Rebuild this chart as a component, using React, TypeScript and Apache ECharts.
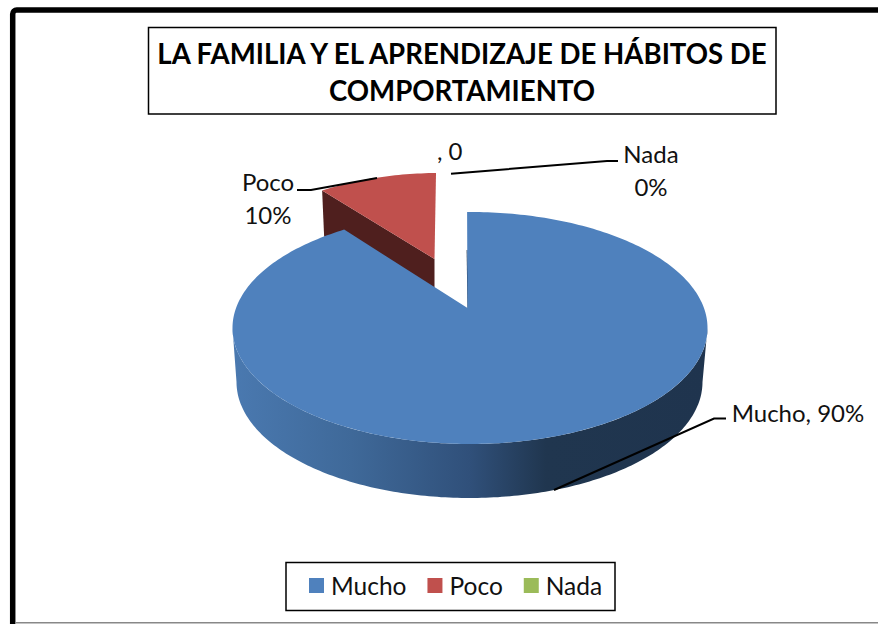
import React, { useEffect, useRef } from "react";
import * as echarts from "echarts";

const titleText = "LA FAMILIA Y EL APRENDIZAJE DE HÁBITOS DE\nCOMPORTAMIENTO";
const categories = ["Mucho", "Poco", "Nada"];
const values = [90, 10, 0];
const colors = ["#4F81BD", "#C0504D", "#9BBB59"];
const strayLabel = ", 0";

const FONT = "Lato, Carlito, sans-serif";
const LABEL_FONT = `24px ${FONT}`;
const total = values.reduce((a, b) => a + b, 0);

const rad = (d: number) => (d * Math.PI) / 180;
// the picture's 3-D view slightly widens the angles near the far-left of the pie
const viewAngle = (a: number) => a - 8 * Math.sin(rad(a)) - 0.7;

type Ell = { cx: number; cy: number; rx: number; ry: number };
const pt = (e: Ell, t: number): number[] => [e.cx + e.rx * Math.sin(rad(t)), e.cy - e.ry * Math.cos(rad(t))];
const arc = (e: Ell, a: number, b: number): number[][] => {
  const out: number[][] = [];
  const n = Math.max(2, Math.ceil(Math.abs(b - a)));
  for (let i = 0; i <= n; i++) out.push(pt(e, a + ((b - a) * i) / n));
  return out;
};

const geometry: any[] = [
  {
    apex: [467.5, 308],
    top: { cx: 470, cy: 328, rx: 237.5, ry: 116 },
    bottom: { cx: 469.5, cy: 382, rx: 233, ry: 116 },
    sliver: [[466.6, 250], [467.5, 250], [468.6, 308], [467.5, 308]],
    sliverFill: "#1F344E",
    label: { x: 798, y: 412, align: "center", oneLine: true },
    leader: [[554, 490], [714, 418.5], [726, 418.5]],
  },
  {
    apex: [434.5, 259],
    top: { cx: 438.7, cy: 289, rx: 220, ry: 116 },
    cut: { depth: 36, leftDrop: 46, fill: "#4F1F1E" },
    label: { x: 268, y: 198, align: "center" },
    leader: [[297, 190], [311, 190], [377, 178]],
  },
  {
    label: { x: 651, y: 170, align: "center" },
    leader: [[451, 173.7], [607, 161], [618, 161]],
  },
];

const wallGradient = () =>
  new echarts.graphic.LinearGradient(0, 0, 1, 0, [
    { offset: 0, color: "#4A79B0" },
    { offset: 0.25, color: "#3F6999" },
    { offset: 0.5, color: "#30507A" },
    { offset: 0.66, color: "#20364F" },
    { offset: 1, color: "#1F344E" },
  ]);

const renderSlice = (i: number) => (_p: any, api: any) => {
  const g = geometry[i];
  const value = api.value(0) as number;
  const before = values.slice(0, i).reduce((a, b) => a + b, 0);
  const start = viewAngle((before / total) * 360);
  const end = viewAngle(((before + value) / total) * 360);
  const children: any[] = [];
  if (value > 0 && g.top) {
    if (g.bottom) {
      children.push({
        type: "polygon",
        shape: { points: [...arc(g.top, 90, 270), ...arc(g.bottom, 270, 90)] },
        style: { fill: wallGradient() },
      });
    }
    if (g.cut) {
      const p = pt(g.top, start);
      children.push({
        type: "polygon",
        shape: {
          points: [p, g.apex, [g.apex[0], g.apex[1] + g.cut.depth], [p[0] + 2, p[1] + g.cut.leftDrop]],
        },
        style: { fill: g.cut.fill },
      });
    }
    if (g.sliver) {
      children.push({ type: "polygon", shape: { points: g.sliver }, style: { fill: g.sliverFill } });
    }
    children.push({
      type: "polygon",
      shape: { points: [g.apex, ...arc(g.top, start, end)] },
      style: { fill: colors[i] },
    });
  }
  children.push({
    type: "polyline",
    shape: { points: g.leader },
    style: { stroke: "#000", lineWidth: 2, fill: "none" },
  });
  const pct = `${Math.round((value / total) * 100)}%`;
  const text = g.label.oneLine ? `${categories[i]}, ${pct}` : `${categories[i]}\n${pct}`;
  children.push({
    type: "text",
    style: {
      text,
      x: g.label.x,
      y: g.label.y,
      textAlign: g.label.align,
      textVerticalAlign: "middle",
      font: LABEL_FONT,
      lineHeight: 33,
      fill: "#111",
    },
  });
  return { type: "group", children };
};

export default function App() {
  const ref = useRef<HTMLDivElement>(null);
  useEffect(() => {
    const chart = echarts.init(ref.current!, null, { renderer: "svg" });
    chart.setOption({
      animation: false,
      backgroundColor: "#fff",
      title: {
        text: titleText,
        left: 462,
        top: 35,
        textAlign: "center",
        padding: 0,
        textStyle: { fontFamily: FONT, fontWeight: "bold", fontSize: 27.6, lineHeight: 37, color: "#000" },
      },
      legend: {
        data: categories,
        left: 309,
        top: 573,
        padding: 0,
        itemWidth: 15,
        itemHeight: 15,
        itemGap: 21,
        icon: "rect",
        selectedMode: false,
        textStyle: { fontFamily: FONT, fontSize: 24.5, color: "#111", padding: [2, 0, 0, 2] },
      },
      graphic: [
        {
          type: "rect",
          shape: { x: 12.7, y: 10, width: 900, height: 700, r: 4 },
          style: { fill: "none", stroke: "#000", lineWidth: 5.5 },
        },
        { type: "line", shape: { x1: 15, y1: 622.7, x2: 878, y2: 622.7 }, style: { stroke: "#888", lineWidth: 1.5 } },
        {
          type: "rect",
          shape: { x: 148.5, y: 27.5, width: 627.5, height: 86.5 },
          style: { fill: "none", stroke: "#000", lineWidth: 1.5 },
        },
        {
          type: "rect",
          shape: { x: 286, y: 562.5, width: 329, height: 48 },
          style: { fill: "none", stroke: "#000", lineWidth: 1.5 },
        },
        {
          type: "text",
          style: { text: strayLabel, x: 437, y: 150, textVerticalAlign: "middle", font: LABEL_FONT, fill: "#111" },
        },
      ],
      series: categories.map((name, i) => ({
        type: "custom",
        name,
        coordinateSystem: "none",
        silent: true,
        z: i === 0 ? 3 : 2,
        itemStyle: { color: colors[i] },
        data: [values[i]],
        renderItem: renderSlice(i),
      })),
    });
    return () => chart.dispose();
  }, []);
  return <div ref={ref} style={{ position: "absolute", left: 0, top: 0, width: 878, height: 624, overflow: "hidden" }} />;
}
